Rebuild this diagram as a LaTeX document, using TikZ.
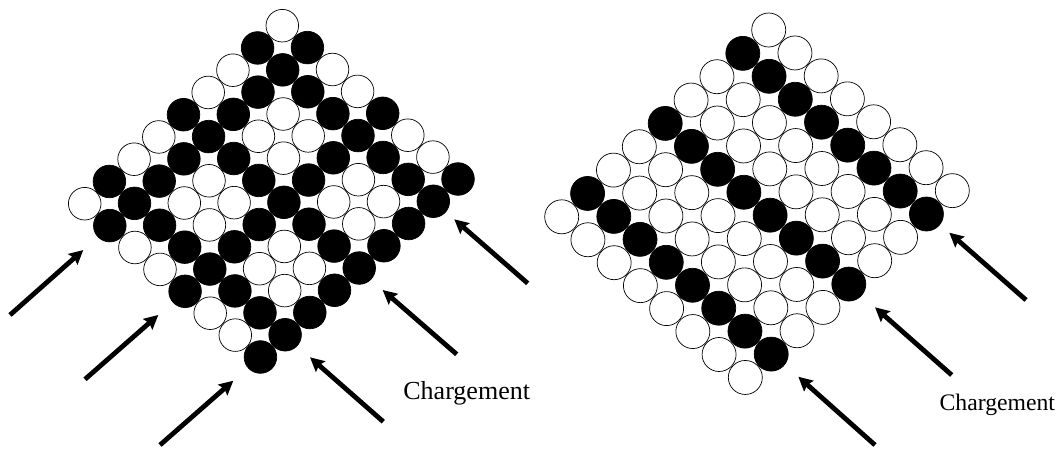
\documentclass[tikz,border=0pt]{standalone}
\usepackage{fontspec}
\setmainfont{Liberation Serif}
\usetikzlibrary{arrows.meta}
\begin{document}
\begin{tikzpicture}[x=1pt,y=-1pt,
  wht/.style={circle,draw=black,fill=white,inner sep=0pt,line width=0.7pt},
  blk/.style={circle,draw=black,fill=black,inner sep=0pt,line width=0.7pt},
  lsize/.style={minimum size=32.6pt},
  rsize/.style={minimum size=34.0pt},
  push/.style={line width=4.8pt,-{Stealth[length=14pt,width=14pt,inset=2pt]}},
  lbl/.style={anchor=base,inner sep=0pt}
]
\useasboundingbox (0,0) rectangle (1060,448);
% left lattice: black if i mod 3 = 1 or j mod 3 = 1
\foreach \i in {0,...,7}{
  \foreach \j in {0,...,8}{
    \pgfmathtruncatemacro{\bi}{mod(\i,3)==1}
    \pgfmathtruncatemacro{\bj}{mod(\j,3)==1}
    \pgfmathsetmacro{\px}{282.3+25.1*\i-24.7*\j}
    \pgfmathsetmacro{\py}{25.7+21.9*\i+22.25*\j}
    \ifnum\numexpr\bi+\bj\relax>0
      \node[blk,lsize] (L-\i-\j) at (\px,\py) {};
    \else
      \node[wht,lsize] (L-\i-\j) at (\px,\py) {};
    \fi
  }
}
% right lattice: black if j mod 3 = 1
\foreach \i in {0,...,7}{
  \foreach \j in {0,...,8}{
    \pgfmathtruncatemacro{\bj}{mod(\j,3)==1}
    \pgfmathsetmacro{\px}{768.7+26.23*\i-25.875*\j}
    \pgfmathsetmacro{\py}{30+22.95*\i+23.35*\j}
    \ifnum\bj>0
      \node[blk,rsize] (R-\i-\j) at (\px,\py) {};
    \else
      \node[wht,rsize] (R-\i-\j) at (\px,\py) {};
    \fi
  }
}
% arrow end points
\coordinate (la1t) at (10,315);      \coordinate (la1h) at (83.3,250);
\coordinate (la2t) at (85,379.3);    \coordinate (la2h) at (158.3,315);
\coordinate (la3t) at (160,445);     \coordinate (la3h) at (233.3,380.7);
\coordinate (lbAt) at (527.7,283.3); \coordinate (lbAh) at (454.3,219.3);
\coordinate (lbBt) at (456.7,354.3); \coordinate (lbBh) at (382.7,290);
\coordinate (lbCt) at (383.3,421.7); \coordinate (lbCh) at (310,357.3);
\coordinate (rbAt) at (1026,300);    \coordinate (rbAh) at (949.3,232.7);
\coordinate (rbBt) at (951.7,375);   \coordinate (rbBh) at (875,307.3);
\coordinate (rbCt) at (875,445);     \coordinate (rbCh) at (798.3,376.7);
\draw[push] (la1t) -- (la1h);
\draw[push] (la2t) -- (la2h);
\draw[push] (la3t) -- (la3h);
\draw[push] (lbAt) -- (lbAh);
\draw[push] (lbBt) -- (lbBh);
\draw[push] (lbCt) -- (lbCh);
\draw[push] (rbAt) -- (rbAh);
\draw[push] (rbBt) -- (rbBh);
\draw[push] (rbCt) -- (rbCh);
\node[lbl,font=\fontsize{26}{30}\selectfont] (lt) at (466.7,399.3) {Chargement};
\node[lbl,font=\fontsize{23.7}{28}\selectfont] (rt) at (997.3,410.7) {Chargement};
\end{tikzpicture}
\end{document}
